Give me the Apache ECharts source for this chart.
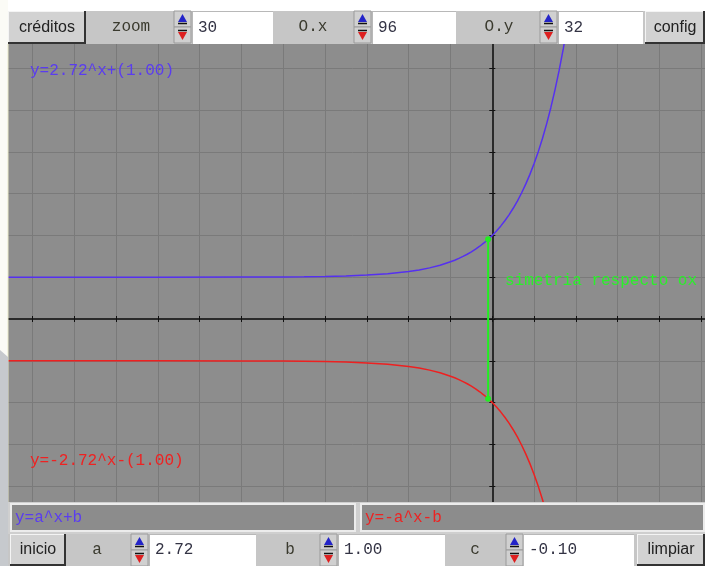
<!DOCTYPE html>
<html>
<head>
<meta charset="utf-8">
<script src="https://cdn.jsdelivr.net/npm/echarts@6/dist/echarts.min.js"></script>
<style>
html,body{margin:0;padding:0;background:#ffffff;}
#c{width:705px;height:566px;}
</style>
</head>
<body>
<div id="c"></div>
<script>
// ---- data ----
const xVals = [-12, -8, -6, -5, -4.5, -4, -3.5, -3, -2.5, -2, -1.75, -1.5, -1.25, -1, -0.9, -0.8, -0.7, -0.6, -0.5, -0.4, -0.3, -0.2, -0.1, 0, 0.1, 0.2, 0.3, 0.4, 0.5, 0.6, 0.7, 0.8, 0.9, 1.0, 1.1, 1.2, 1.3, 1.4, 1.5, 1.6, 1.7, 1.8];
const blueY = [1.000, 1.0003, 1.0025, 1.0067, 1.011, 1.018, 1.030, 1.050, 1.082, 1.135, 1.174, 1.223, 1.287, 1.368, 1.407, 1.449, 1.497, 1.549, 1.607, 1.670, 1.741, 1.819, 1.905, 2.000, 2.105, 2.221, 2.350, 2.492, 2.649, 2.822, 3.014, 3.226, 3.460, 3.718, 4.004, 4.320, 4.669, 5.055, 5.482, 5.953, 6.474, 7.050];
const redY = [-1.000, -1.0003, -1.0025, -1.0067, -1.011, -1.018, -1.030, -1.050, -1.082, -1.135, -1.174, -1.223, -1.287, -1.368, -1.407, -1.449, -1.497, -1.549, -1.607, -1.670, -1.741, -1.819, -1.905, -2.000, -2.105, -2.221, -2.350, -2.492, -2.649, -2.822, -3.014, -3.226, -3.460, -3.718, -4.004, -4.320, -4.669, -5.055, -5.482, -5.953, -6.474, -7.050];
const symX = [-0.1, -0.1];
const symY = [1.905, -1.905];
const labelBlue = 'y=2.72^x+(1.00)';
const labelRed = 'y=-2.72^x-(1.00)';
const labelSym = 'simetria respecto ox';
const formulaA = 'y=a^x+b';
const formulaB = 'y=-a^x-b';
const topFields = [['zoom', '30'], ['O.x', '96'], ['O.y', '32']];
const bottomFields = [['a', '2.72'], ['b', '1.00'], ['c', '-0.10']];

const MONO = '"Liberation Mono","DejaVu Sans Mono",monospace';
const SANS = '"Liberation Sans","DejaVu Sans",sans-serif';

const chart = echarts.init(document.getElementById('c'), null, {renderer: 'canvas'});

const G = [];
function rect(x, y, w, h, fill, stroke, lw) {
  G.push({type: 'rect', z: 100, silent: true, shape: {x, y, width: w, height: h},
    style: {fill, stroke: stroke || null, lineWidth: stroke ? (lw || 1) : 0}});
}
function line(x1, y1, x2, y2, color, lw) {
  G.push({type: 'line', z: 101, silent: true, shape: {x1, y1, x2, y2},
    style: {stroke: color, lineWidth: lw || 1}});
}
function poly(pts, fill) {
  G.push({type: 'polygon', z: 101, silent: true, shape: {points: pts}, style: {fill}});
}
function text(x, y, str, fill, font, align) {
  G.push({type: 'text', z: 102, silent: true, x, y,
    style: {text: str, fill, font, align: align || 'left', verticalAlign: 'middle'}});
}
function button(x, y, w, h, label) {
  rect(x, y, w, h, '#d2d2d2');
  line(x, y + 0.5, x + w, y + 0.5, '#f4f4f4', 1);
  line(x + 0.5, y, x + 0.5, y + h, '#f4f4f4', 1);
  line(x, y + h - 1, x + w, y + h - 1, '#333333', 2);
  line(x + w - 1, y, x + w - 1, y + h, '#333333', 2);
  text(x + w / 2, y + h / 2, label, '#222222', '16px ' + SANS, 'center');
}
function spinner(x, y) {
  const w = 17, h = 16;
  rect(x, y, w, h, '#d0d0d0', '#9a9a9a', 1);
  rect(x, y + h, w, h, '#d0d0d0', '#9a9a9a', 1);
  poly([[x + 8.5, y + 3], [x + 4, y + 11], [x + 13, y + 11]], '#2424c8');
  line(x + 4, y + 12.5, x + 13, y + 12.5, '#111111', 1.5);
  poly([[x + 4, y + h + 5], [x + 13, y + h + 5], [x + 8.5, y + h + 13]], '#dd2020');
  line(x + 4, y + h + 3.5, x + 13, y + h + 3.5, '#111111', 1.5);
}
function field(x, y, w, h, val) {
  rect(x, y, w, h, '#ffffff');
  line(x, y + 0.5, x + w, y + 0.5, '#b8b8b8', 1);
  line(x + 0.5, y, x + 0.5, y + h, '#b8b8b8', 1);
  text(x + 6, y + h / 2, val, '#333344', '16px ' + MONO, 'left');
}

// page frame pieces covering the grid overflow
rect(0, 0, 705, 11, '#ffffff');
rect(0, 0, 8, 566, '#fbfbf6');
line(8, 44, 8, 502, '#e8e8c8', 1);
poly([[0, 350], [8, 357], [8, 566], [0, 566]], '#c6c9cd');

// top toolbar
rect(8, 11, 697, 33, '#c6c6c6');
button(8, 11, 78, 33, 'créditos');
text(131, 27, topFields[0][0], '#3a3a2e', '16px ' + MONO, 'center');
spinner(174, 11); field(192, 11, 81, 33, topFields[0][1]);
text(313, 27, topFields[1][0], '#3a3a2e', '16px ' + MONO, 'center');
spinner(354, 11); field(372, 11, 84, 33, topFields[1][1]);
text(499, 27, topFields[2][0], '#3a3a2e', '16px ' + MONO, 'center');
spinner(540, 11); field(558, 11, 85, 33, topFields[2][1]);
button(645, 11, 60, 33, 'config');

// bottom formula bars
rect(8, 502, 697, 64, '#cfcfcf');
rect(11, 504, 344, 27, '#8c8c8c', '#ececec', 2);
text(15, 518, formulaA, '#5a3cf0', '16px ' + MONO, 'left');
rect(361, 504, 343, 27, '#8c8c8c', '#ececec', 2);
text(365, 518, formulaB, '#ee2222', '16px ' + MONO, 'left');

// bottom toolbar
rect(8, 534, 697, 32, '#c6c6c6');
button(10, 534, 56, 32, 'inicio');
text(97, 550, bottomFields[0][0], '#3a3a2e', '16px ' + MONO, 'center');
spinner(131, 534); field(149, 534, 107, 32, bottomFields[0][1]);
text(290, 550, bottomFields[1][0], '#3a3a2e', '16px ' + MONO, 'center');
spinner(320, 534); field(338, 534, 107, 32, bottomFields[1][1]);
text(475, 550, bottomFields[2][0], '#3a3a2e', '16px ' + MONO, 'center');
spinner(506, 534); field(523, 534, 111, 32, bottomFields[2][1]);
button(637, 534, 68, 32, 'limpiar');

// annotations in the plot
text(30, 71, labelBlue, '#5a3cf0', '16px ' + MONO, 'left');
text(30, 461, labelRed, '#ee2222', '16px ' + MONO, 'left');
text(505, 281, labelSym, '#2af02a', '16px ' + MONO, 'left');

const axisLineStyle = {color: '#2a2a2a', width: 2};
function xa(pos, split) {
  return {type: 'value', min: -12, max: 6, interval: 1, position: pos,
    axisLine: {show: true, onZero: true, lineStyle: axisLineStyle},
    axisTick: {show: true, inside: false, length: 3, lineStyle: {color: '#111', width: 1}},
    axisLabel: {show: false},
    splitLine: {show: split, lineStyle: {color: '#7a7a7a', width: 1}}};
}
function ya(pos, split) {
  return {type: 'value', min: -5, max: 7, interval: 1, position: pos,
    axisLine: {show: true, onZero: true, lineStyle: axisLineStyle},
    axisTick: {show: true, inside: false, length: 3, lineStyle: {color: '#111', width: 1}},
    axisLabel: {show: false},
    splitLine: {show: split, lineStyle: {color: '#7a7a7a', width: 1}}};
}

const option = {
  animation: false,
  grid: {left: -9.3, width: 752.4, top: 26.4, height: 501.6, show: true,
    outerBoundsMode: 'none', containLabel: false,
    backgroundColor: '#8d8d8d', borderWidth: 0},
  xAxis: [xa('bottom', true), xa('top', false)],
  yAxis: [ya('left', true), ya('right', false)],
  series: [
    {type: 'line', xAxisIndex: 0, yAxisIndex: 0, showSymbol: false, smooth: false,
      data: xVals.map((x, i) => [x, blueY[i]]), lineStyle: {color: '#5530f0', width: 1.5}, z: 5},
    {type: 'line', xAxisIndex: 0, yAxisIndex: 0, showSymbol: false, smooth: false,
      data: xVals.map((x, i) => [x, redY[i]]), lineStyle: {color: '#ee2020', width: 1.5}, z: 5},
    {type: 'line', xAxisIndex: 0, yAxisIndex: 0, showSymbol: true, symbol: 'circle', symbolSize: 6,
      data: symX.map((x, i) => [x, symY[i]]), lineStyle: {color: '#22ee22', width: 2},
      itemStyle: {color: '#22ee22'}, z: 6}
  ],
  graphic: G
};
chart.setOption(option);
</script>
</body>
</html>
